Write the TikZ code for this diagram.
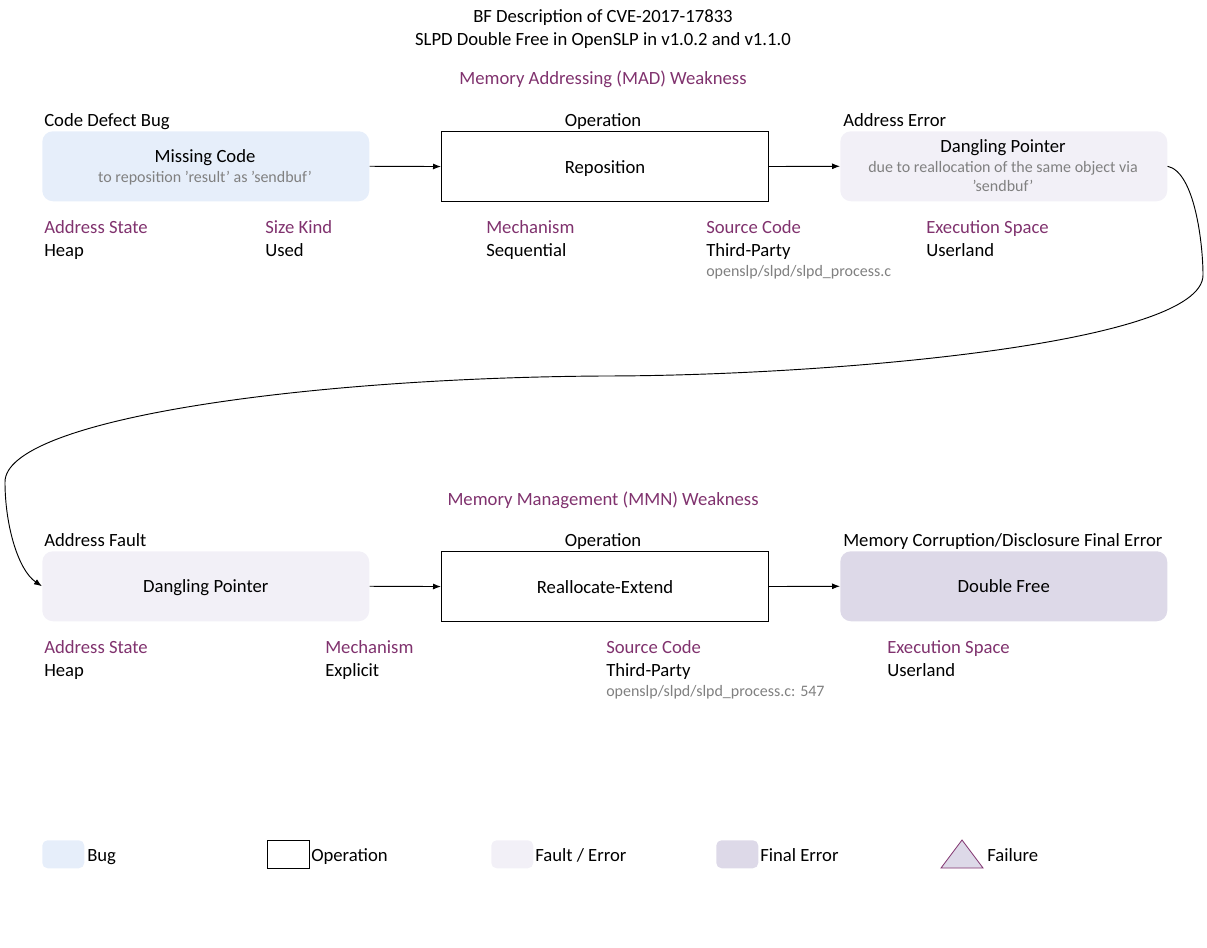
\documentclass[tikz,border=0pt]{standalone}
\usepackage{fontspec}
\setmainfont{Carlito}
\usetikzlibrary{arrows.meta}
\definecolor{purp}{RGB}{128,50,110}
\definecolor{bugc}{RGB}{230,238,250}
\definecolor{faultc}{RGB}{242,240,247}
\definecolor{finalc}{RGB}{221,217,232}
\definecolor{greyt}{RGB}{128,128,128}
\newcommand{\sq}{\char"0027\relax}
\begin{document}
\begin{tikzpicture}[x=0.75pt,y=-0.75pt,
  every node/.style={inner sep=0pt,font=\fontsize{14}{16}\selectfont,text height=11pt,text depth=1pt},
  box/.style={minimum width=327*0.75pt,minimum height=70*0.75pt,anchor=north west,align=center},
  bugbox/.style={box,fill=bugc,rounded corners=8pt},
  faultbox/.style={box,fill=faultc,rounded corners=8pt},
  finalbox/.style={box,fill=finalc,rounded corners=8pt},
  opbox/.style={box,draw=black,line width=0.8pt},
  lbl/.style={anchor=west},
  attr/.style={anchor=west,text=purp},
  val/.style={anchor=west},
  sub/.style={anchor=west,text=greyt,font=\fontsize{12}{14}\selectfont,text height=9.5pt,text depth=1pt},
  subc/.style={text=greyt,font=\fontsize{12}{14}\selectfont,text height=9.5pt,text depth=1pt},
  arr/.style={-{Latex[length=6pt,width=4.5pt]},line width=0.7pt},
  legsq/.style={minimum width=42*0.75pt,minimum height=28*0.75pt,anchor=north west},
  legt/.style={anchor=west}
]
\useasboundingbox (0,0) rectangle (1207,948);
% titles
\node (t1) at (603,16) {BF Description of CVE-2017-17833};
\node (t2) at (603,39) {SLPD Double Free in OpenSLP in v1.0.2 and v1.1.0};
\node[text=purp] (mad) at (603,78) {Memory Addressing (MAD) Weakness};
% row 1 headers
\node[lbl] (h1) at (44,120) {Code Defect Bug};
\node (h2) at (603,120) {Operation};
\node[lbl] (h3) at (843,120) {Address Error};
% row 1 boxes
\node[bugbox] (b1) at (42,131) {};
\node (b1t) at (205,156) {Missing Code};
\node[subc] (b1s) at (205,177) {to reposition \sq result\sq{} as \sq sendbuf\sq};
\node[opbox] (b2) at (441,131) {Reposition};
\node[faultbox] (b3) at (840,131) {};
\node (b3t) at (1003,146) {Dangling Pointer};
\node[subc] (b3s) at (1003,167) {due to reallocation of the same object via};
\node[subc] (b3s2) at (1003,186) {\sq sendbuf\sq};
\draw[arr] (b1.east) -- (b2.west);
\draw[arr] (b2.east) -- (b3.west);
% row 1 attributes
\node[attr] (a1) at (44,227) {Address State};
\node[val] (v1) at (44,250) {Heap};
\node[attr] (a2) at (265,227) {Size Kind};
\node[val] (v2) at (265,250) {Used};
\node[attr] (a3) at (486,227) {Mechanism};
\node[val] (v3) at (486,250) {Sequential};
\node[attr] (a4) at (706,227) {Source Code};
\node[val] (v4) at (706,250) {Third-Party};
\node[sub] (s4) at (706,271) {openslp/slpd/slpd\_process.c};
\node[attr] (a5) at (926,227) {Execution Space};
\node[val] (v5) at (926,250) {Userland};
% row 2
\node[text=purp] (mmn) at (603,499) {Memory Management (MMN) Weakness};
\node[lbl] (h4) at (44,540) {Address Fault};
\node (h5) at (603,540) {Operation};
\node[lbl] (h6) at (843,540) {Memory Corruption/Disclosure Final Error};
\node[faultbox] (b4) at (42,551) {Dangling Pointer};
\node[opbox] (b5) at (441,551) {Reallocate-Extend};
\node[finalbox] (b6) at (840,551) {Double Free};
\draw[arr] (b4.east) -- (b5.west);
\draw[arr] (b5.east) -- (b6.west);
\node[attr] (a6) at (44,647) {Address State};
\node[val] (v6) at (44,670) {Heap};
\node[attr] (a7) at (325,647) {Mechanism};
\node[val] (v7) at (325,670) {Explicit};
\node[attr] (a8) at (606,647) {Source Code};
\node[val] (v8) at (606,670) {Third-Party};
\node[sub] (s8) at (606,691) {openslp/slpd/slpd\_process.c: 547};
\node[attr] (a9) at (887,647) {Execution Space};
\node[val] (v9) at (887,670) {Userland};
% connecting curve
\draw[arr] (b3.east) .. controls (1195,172) and (1203,245) .. (1203,275)
  .. controls (1203,345) and (820,376) .. (603,376)
  .. controls (300,378) and (5,420) .. (5,482)
  .. controls (5,525) and (18,570) .. (b4.west);
% legend
\node[legsq,fill=bugc,rounded corners=4pt] (l1) at (42,840) {};
\node[legt] (l1t) at (87,855) {Bug};
\node[legsq,draw=black,line width=0.8pt] (l2) at (267,840) {};
\node[legt] (l2t) at (311,855) {Operation};
\node[legsq,fill=faultc,rounded corners=4pt] (l3) at (491,840) {};
\node[legt] (l3t) at (535,855) {Fault / Error};
\node[legsq,fill=finalc,rounded corners=4pt] (l4) at (716,840) {};
\node[legt] (l4t) at (760,855) {Final Error};
\coordinate (tri1) at (941,868);
\coordinate (tri2) at (962,840);
\coordinate (tri3) at (983,868);
\draw[fill=finalc,draw=purp,line width=0.6pt] (tri1) -- (tri2) -- (tri3) -- cycle;
\node[legt] (l5t) at (987,855) {Failure};
\end{tikzpicture}
\end{document}
